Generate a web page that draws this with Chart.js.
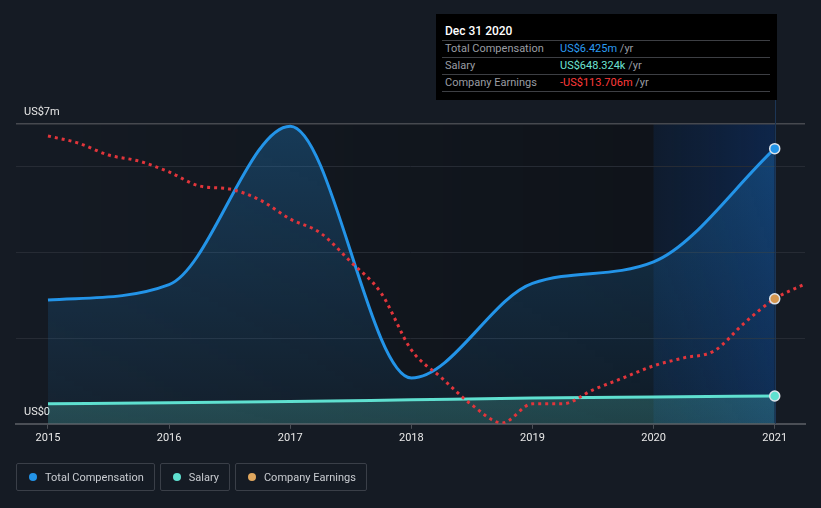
<!DOCTYPE html>
<html><head><meta charset="utf-8">
<script src="https://cdn.jsdelivr.net/npm/chart.js@4/dist/chart.umd.min.js"></script>
<style>
html,body{margin:0;padding:0;background:#151b24;width:821px;height:508px;overflow:hidden;font-family:Roboto,"Open Sans",sans-serif;}
#wrap{position:relative;width:821px;height:508px;}
#c{position:absolute;left:0;top:0;}
#tip{position:absolute;left:436px;top:14px;width:341px;height:86px;background:#000;}
#tip .t{position:absolute;left:9px;top:10px;font-size:12px;color:#fff;font-weight:500;}
#tip .sep{position:absolute;left:6px;width:328px;height:1px;background:#3d3f44;}
#tip .lab{position:absolute;left:9px;font-size:11px;color:#9a9da3;}
#tip .val{position:absolute;left:124px;font-size:11px;color:#9a9da3;}
#legend{position:absolute;left:16px;top:463px;display:flex;gap:5px;}
#legend .it{height:28px;box-sizing:border-box;border:1px solid #3a3f48;border-radius:2px;display:flex;align-items:center;padding:0 10px 0 12px;font-size:11px;color:#c9ccd1;}
#legend .dot{width:8px;height:8px;border-radius:50%;margin-right:8px;}
</style></head>
<body><div id="wrap"><canvas id="c" width="821" height="508"></canvas>
<div id="tip"></div>
<div id="legend"></div>
</div>
<script>
// ---- data ----
const years = [2015, 2016, 2017, 2018, 2019, 2020, 2021];
const totalComp = [2.89, 3.25, 6.95, 1.07, 3.28, 3.78, 6.425];   // US$m
const salary = [0.47, 0.49, 0.52, 0.56, 0.60, 0.625, 0.648];      // US$m
const earningsX = [2015, 2015.25, 2015.5, 2015.75, 2016, 2016.25, 2016.5, 2016.75,
  2017, 2017.25, 2017.5, 2017.75, 2018, 2018.25, 2018.5, 2018.75,
  2019, 2019.25, 2019.5, 2019.75, 2020, 2020.25, 2020.5, 2020.75, 2021, 2021.25];
const earnings = [-7.8, -12.4, -20.2, -24.1, -31.2, -40.3, -42.3, -49.4,
  -61.8, -70.9, -89.7, -109.9, -146.9, -165.1, -182.7, -194.4,
  -182, -182, -172.9, -165.1, -157.3, -152.1, -147.6, -129.4, -113.706, -104];  // US$m
const xTickLabels = ['2015', '2016', '2017', '2018', '2019', '2020', '2021'];
const yTickValues = [0, 2, 4, 6, 7];
const yTickLabels = {0: 'US$0', 7: 'US$7m'};
const seriesNames = ['Total Compensation', 'Salary', 'Company Earnings'];
const seriesColors = ['#2394e8', '#5fe0d0', '#e0a75e'];
const highlightFrom = 2020, highlightTo = 2021;
const tipTitle = 'Dec 31 2020';
const tipRows = [
  ['Total Compensation', 'US$6.425m', '#2b9cf2'],
  ['Salary', 'US$648.324k', '#6de3d3'],
  ['Company Earnings', '-US$113.706m', '#ff3a3a']
];

// ---- tooltip box ----
const tip = document.getElementById('tip');
let h = '<div class="t">' + tipTitle + '</div>';
[26, 43, 60, 77].forEach(y => { h += '<div class="sep" style="top:' + y + 'px"></div>'; });
tipRows.forEach((r, i) => {
  const top = 28 + i * 17;
  h += '<div class="lab" style="top:' + top + 'px">' + r[0] + '</div>';
  h += '<div class="val" style="top:' + top + 'px"><span style="color:' + r[2] + '">' + r[1] + '</span> /yr</div>';
});
tip.innerHTML = h;

// ---- legend ----
const lg = document.getElementById('legend');
seriesNames.forEach((n, i) => {
  lg.innerHTML += '<div class="it"><span class="dot" style="background:' + seriesColors[i] + '"></span>' + n + '</div>';
});

function vGrad(ctx, c0, c1) {
  const ca = ctx.chart.chartArea;
  if (!ca) return c0;
  const g = ctx.chart.ctx.createLinearGradient(0, ca.top, 0, ca.bottom);
  g.addColorStop(0, c0); g.addColorStop(1, c1);
  return g;
}

const bgPlugin = {
  id: 'bg',
  beforeDraw(chart) {
    const {ctx, chartArea: ca, scales} = chart;
    const x0 = scales.x.getPixelForValue(highlightFrom);
    const x1 = scales.x.getPixelForValue(highlightTo);
    ctx.save();
    let g = ctx.createLinearGradient(ca.left, 0, x0, 0);
    g.addColorStop(0, 'rgba(0,0,0,0)');
    g.addColorStop(1, 'rgba(0,0,0,0.28)');
    ctx.fillStyle = g;
    ctx.fillRect(ca.left, ca.top, x0 - ca.left, ca.bottom - ca.top);
    g = ctx.createLinearGradient(x0, 0, x1, 0);
    g.addColorStop(0, 'rgba(8,30,60,0.45)');
    g.addColorStop(1, 'rgba(10,45,100,0.6)');
    ctx.fillStyle = g;
    ctx.fillRect(x0, ca.top, x1 - x0, ca.bottom - ca.top);
    ctx.restore();
  },
  beforeDatasetsDraw(chart) {
    const {ctx, chartArea: ca, scales} = chart;
    const x1 = Math.round(scales.x.getPixelForValue(highlightTo)) + 0.5;
    ctx.save();
    ctx.strokeStyle = '#1c3656';
    ctx.lineWidth = 1;
    ctx.beginPath(); ctx.moveTo(x1, 100); ctx.lineTo(x1, ca.bottom); ctx.stroke();
    ctx.restore();
  }
};

const lastIdx = (arr) => arr.length - 1;
new Chart(document.getElementById('c'), {
  type: 'line',
  data: {
    datasets: [
      {
        label: seriesNames[2], yAxisID: 'y2', order: 0,
        data: earningsX.map((x, i) => ({x, y: earnings[i]})),
        borderColor: '#e2353b', borderWidth: 3, borderDash: [3, 4],
        cubicInterpolationMode: 'monotone', fill: false,
        pointRadius: c => earningsX[c.dataIndex] === highlightTo ? 5 : 0,
        pointBackgroundColor: '#d4964f', pointBorderColor: '#dde3ea', pointBorderWidth: 1.5
      },
      {
        label: seriesNames[1], yAxisID: 'y', order: 1,
        data: years.map((x, i) => ({x, y: salary[i]})),
        borderColor: '#5fe0d0', borderWidth: 3,
        cubicInterpolationMode: 'monotone', fill: 'origin',
        backgroundColor: c => vGrad(c, 'rgba(95,224,208,0.45)', 'rgba(95,224,208,0.2)'),
        pointRadius: c => c.dataIndex === lastIdx(years) ? 5 : 0,
        pointBackgroundColor: '#5fe0d0', pointBorderColor: '#dde3ea', pointBorderWidth: 1.5
      },
      {
        label: seriesNames[0], yAxisID: 'y', order: 2,
        data: years.map((x, i) => ({x, y: totalComp[i]})),
        borderColor: '#2394e8', borderWidth: 3,
        cubicInterpolationMode: 'monotone', fill: 'origin',
        backgroundColor: c => vGrad(c, 'rgba(35,148,232,0.28)', 'rgba(35,148,232,0.06)'),
        pointRadius: c => c.dataIndex === lastIdx(years) ? 5 : 0,
        pointBackgroundColor: '#2394e8', pointBorderColor: '#dde3ea', pointBorderWidth: 1.5
      }
    ]
  },
  options: {
    responsive: false, animation: false, events: [],
    layout: {padding: {top: 124, left: 0, right: 16, bottom: 60}},
    plugins: {legend: {display: false}, tooltip: {enabled: false}},
    scales: {
      x: {
        type: 'linear', min: 2014.736, max: 2021.25,
        afterBuildTicks: s => { s.ticks = years.map(v => ({value: v})); },
        ticks: {color: '#e8e8e8', font: {size: 11, family: 'Roboto'}, padding: 3, autoSkip: false, maxRotation: 0,
          callback: (v) => xTickLabels[years.indexOf(v)]},
        grid: {drawOnChartArea: false, drawTicks: true, tickLength: 5, color: '#4b4f56'},
        border: {display: true, color: '#4b4f56', width: 2}
      },
      y: {
        min: 0, max: 7,
        afterBuildTicks: s => { s.ticks = yTickValues.map(v => ({value: v})); },
        ticks: {mirror: true, padding: 8, labelOffset: -12, color: '#e8e8e8', font: {size: 11, family: 'Roboto'},
          callback: v => yTickLabels[v] || ''},
        grid: {drawTicks: false, color: c => (c.tick && (c.tick.value === 7 || c.tick.value === 0)) ? '#46494f' : '#262b34', lineWidth: c => (c.tick && c.tick.value === 7) ? 1.5 : 1},
        border: {display: false}
      },
      y2: {display: false, min: -195, max: 0}
    }
  },
  plugins: [bgPlugin]
});
</script>
</body></html>
